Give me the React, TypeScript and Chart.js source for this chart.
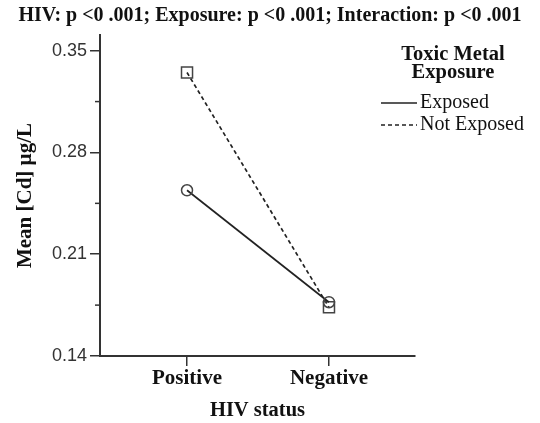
import React, { useEffect, useRef } from "react";
import { Chart, registerables } from "chart.js";

Chart.register(...registerables);

const categories = ["Positive", "Negative"];
const exposedValues = [0.254, 0.177];
const notExposedValues = [0.335, 0.1735];
const seriesNames = ["Exposed", "Not Exposed"];
const legendTitle = ["Toxic Metal", "Exposure"];
const majorTicks = [0.14, 0.21, 0.28, 0.35];
const minorTicks = [0.175, 0.245, 0.315];
const chartTitle = "HIV: p <0 .001; Exposure: p <0 .001; Interaction: p <0 .001";
const yTitle = "Mean [Cd] µg/L";
const xTitle = "HIV status";

const SERIF = "'Liberation Serif', 'Times New Roman', serif";
const SANS = "'Liberation Sans', Arial, sans-serif";

const extrasPlugin = {
  id: "extras",
  afterDraw(chart: any) {
    const ctx = chart.ctx;
    const y = chart.scales.y;
    ctx.save();
    // title
    ctx.fillStyle = "#111";
    ctx.font = `bold 20px ${SERIF}`;
    ctx.textAlign = "center";
    ctx.textBaseline = "middle";
    ctx.fillText(chartTitle, chart.width / 2, 16);
    // minor ticks
    ctx.strokeStyle = "#333";
    ctx.lineWidth = 1.5;
    minorTicks.forEach((v) => {
      const py = y.getPixelForValue(v);
      ctx.beginPath();
      ctx.moveTo(y.right - 5, py);
      ctx.lineTo(y.right, py);
      ctx.stroke();
    });
    // legend
    const ca = chart.chartArea;
    const cx = ca.right + 38;
    ctx.fillStyle = "#111";
    ctx.font = `bold 20.5px ${SERIF}`;
    ctx.textAlign = "center";
    ctx.textBaseline = "middle";
    legendTitle.forEach((t, i) => ctx.fillText(t, cx, 54.5 + i * 18));
    const ds = chart.data.datasets;
    ds.forEach((d: any, i: number) => {
      const ly = 103 + i * 22;
      ctx.strokeStyle = d.borderColor;
      ctx.lineWidth = d.borderWidth;
      ctx.setLineDash(d.borderDash || []);
      ctx.beginPath();
      ctx.moveTo(ca.right - 34, ly);
      ctx.lineTo(ca.right + 2, ly);
      ctx.stroke();
      ctx.setLineDash([]);
      ctx.font = `20px ${SERIF}`;
      ctx.textAlign = "left";
      ctx.fillText(d.label, ca.right + 5, ly);
    });
    ctx.restore();
  },
};

export default function App() {
  const ref = useRef<HTMLCanvasElement>(null);
  useEffect(() => {
    if (!ref.current) return;
    const toPts = (vals: number[]) => vals.map((v, i) => ({ x: i, y: v }));
    const chart = new Chart(ref.current, {
      type: "line",
      data: {
        datasets: [
          {
            label: seriesNames[0],
            data: toPts(exposedValues),
            borderColor: "#222",
            borderWidth: 1.7,
            pointStyle: "circle",
            pointRadius: 5.5,
            pointBorderColor: "#444",
            pointBorderWidth: 1.5,
            pointBackgroundColor: "rgba(0,0,0,0)",
          },
          {
            label: seriesNames[1],
            data: toPts(notExposedValues),
            borderColor: "#222",
            borderWidth: 1.7,
            borderDash: [4, 3],
            pointStyle: "rect",
            pointRadius: 7.8,
            pointBorderColor: "#444",
            pointBorderWidth: 1.5,
            pointBackgroundColor: "rgba(0,0,0,0)",
          },
        ],
      },
      options: {
        responsive: false,
        animation: false,
        layout: { padding: { left: 0, right: 125, top: 35, bottom: 0 } },
        plugins: {
          legend: { display: false },
          tooltip: { enabled: false },
          title: { display: false },
        },
        scales: {
          x: {
            type: "linear",
            min: -0.613,
            max: 1.606,
            afterBuildTicks: (s: any) => {
              s.ticks = categories.map((_, i) => ({ value: i }));
            },
            afterFit: (s: any) => {
              s.height = 67;
            },
            ticks: {
              callback: (v: any) => categories[v] ?? "",
              color: "#111",
              font: { family: SERIF, size: 21, weight: "bold", lineHeight: 1.2 },
              padding: 0,
              maxRotation: 0,
              autoSkip: false,
            },
            grid: {
              drawOnChartArea: false,
              drawTicks: true,
              tickLength: 10,
              tickColor: "#333",
              lineWidth: 1.5,
            },
            border: { display: true, color: "#333", width: 2 },
            title: {
              display: true,
              text: xTitle,
              color: "#111",
              font: { family: SERIF, size: 20.5, weight: "bold", lineHeight: 1.2 },
              padding: { top: 0, bottom: 0 },
            },
          },
          y: {
            type: "linear",
            min: 0.14,
            max: 0.3608,
            afterBuildTicks: (s: any) => {
              s.ticks = majorTicks.map((v) => ({ value: v }));
            },
            afterFit: (s: any) => {
              s.width = 100;
            },
            ticks: {
              callback: (v: any) => Number(v).toFixed(2),
              color: "#333",
              font: { family: SANS, size: 18, lineHeight: 1.2 },
              padding: 3,
            },
            grid: {
              drawOnChartArea: false,
              drawTicks: true,
              tickLength: 10,
              tickColor: "#333",
              lineWidth: 1.5,
            },
            border: { display: true, color: "#333", width: 2 },
            title: {
              display: true,
              text: yTitle,
              color: "#111",
              font: { family: SERIF, size: 21, weight: "bold", lineHeight: 1.2 },
              padding: { top: 13, bottom: 0 },
            },
          },
        },
      },
      plugins: [extrasPlugin],
    });
    return () => chart.destroy();
  }, []);
  return (
    <div style={{ position: "absolute", left: 0, top: 0, width: 540, height: 423, background: "#fff" }}>
      <canvas ref={ref} width={540} height={423} />
    </div>
  );
}
